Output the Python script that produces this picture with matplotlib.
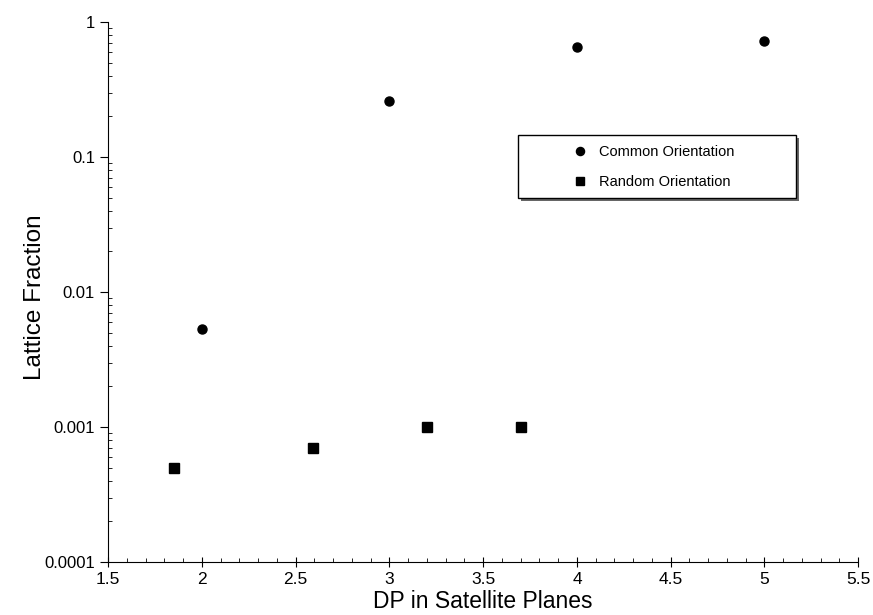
import matplotlib
matplotlib.use("Agg")
import matplotlib.pyplot as plt
from matplotlib.patches import Rectangle
from matplotlib.ticker import MultipleLocator, LogLocator, FuncFormatter, NullFormatter

plt.rcParams["font.family"] = ["Liberation Sans", "DejaVu Sans"]

common_dp = [2, 3, 4, 5]
common_frac = [0.0053, 0.26, 0.65, 0.73]
random_dp = [1.85, 2.59, 3.2, 3.7]
random_frac = [0.0005, 0.0007, 0.001, 0.001]

fig = plt.figure(figsize=(8.73, 6.15), dpi=100)
ax = fig.add_axes([0.124, 0.086, 0.859, 0.878])

ax.plot(common_dp, common_frac, "o", color="black", ms=6.5, label="Common Orientation")
ax.plot(random_dp, random_frac, "s", color="black", ms=6.5, label="Random Orientation")

ax.set_yscale("log")
ax.set_xlim(1.5, 5.5)
ax.set_ylim(1e-4, 1)
ax.xaxis.set_major_locator(MultipleLocator(0.5))
ax.xaxis.set_minor_locator(MultipleLocator(0.1))
ax.xaxis.set_major_formatter(FuncFormatter(lambda v, p: f"{v:g}"))
ax.yaxis.set_major_locator(LogLocator(base=10, numticks=10))
ax.yaxis.set_minor_locator(LogLocator(base=10, subs=range(2, 10), numticks=10))
ax.yaxis.set_major_formatter(FuncFormatter(lambda v, p: f"{v:g}"))
ax.yaxis.set_minor_formatter(NullFormatter())

for side in ("top", "right"):
    ax.spines[side].set_visible(False)
ax.tick_params(axis="y", which="major", direction="out", length=6, labelsize=12)
ax.tick_params(axis="y", which="minor", direction="in", length=3)
ax.tick_params(axis="x", which="major", direction="inout", length=7, labelsize=12.5)
ax.tick_params(axis="x", which="minor", direction="in", length=3)

ax.set_xlabel("DP in Satellite Planes", fontsize=16.5, labelpad=2)
ax.set_ylabel("Lattice Fraction", fontsize=17.5)
ax.yaxis.set_label_coords(-0.083, 0.49)

# legend box with a thin drop shadow
bx, by, bw, bh = 0.547, 0.674, 0.370, 0.117
shadow = Rectangle((bx + 0.004, by - 0.0055), bw, bh, transform=ax.transAxes,
                   facecolor="#666666", edgecolor="none", zorder=3)
box = Rectangle((bx, by), bw, bh, transform=ax.transAxes,
                facecolor="white", edgecolor="black", lw=1.0, zorder=4)
ax.add_patch(shadow)
ax.add_patch(box)

leg = ax.legend(loc="center left", bbox_to_anchor=(0.619, 0.731), frameon=False,
                fontsize=10.5, numpoints=1, handlelength=1.0, handletextpad=0.8,
                borderpad=0, borderaxespad=0, labelspacing=1.1, markerscale=0.9)
leg.set_zorder(5)

fig.savefig("out.png", dpi=100)
